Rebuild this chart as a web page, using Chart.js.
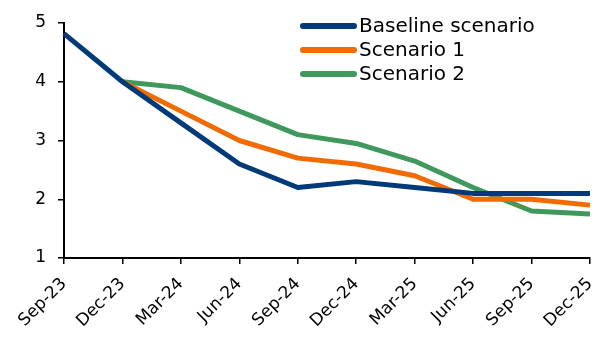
<!DOCTYPE html>
<html lang="en">
<head>
    <meta charset="UTF-8">
    <title>Scenarios</title>
    <style>
        html, body { margin: 0; padding: 0; background: #fff; }
        #wrap { width: 595px; height: 338px; }
    </style>
</head>
<body>
<div id="wrap"><canvas id="chart" width="595" height="338"></canvas></div>

<script src="https://cdn.jsdelivr.net/npm/chart.js"></script>
<script>
    const labels = ['Sep-23', 'Dec-23', 'Mar-24', 'Jun-24', 'Sep-24', 'Dec-24', 'Mar-25', 'Jun-25', 'Sep-25', 'Dec-25'];
    const baseline = [4.82, 4.0, 3.3, 2.6, 2.2, 2.3, 2.2, 2.1, 2.1, 2.1];
    const scenario1 = [null, 4.0, 3.5, 3.0, 2.7, 2.6, 2.4, 2.0, 2.0, 1.9];
    const scenario2 = [null, 4.0, 3.9, 3.5, 3.1, 2.95, 2.65, 2.2, 1.8, 1.75];
    const yTicks = [1, 2, 3, 4, 5];

    const font = "'DejaVu Sans', sans-serif";

    // legend drawn in the top right corner, like the original
    const sideLegend = {
        id: 'sideLegend',
        afterDraw(chart) {
            const ctx = chart.ctx;
            ctx.save();
            ctx.font = '20px ' + font;
            ctx.textBaseline = 'middle';
            ctx.lineCap = 'round';
            chart.data.datasets.forEach((ds, i) => {
                const y = 26 + i * 24;
                ctx.strokeStyle = ds.borderColor;
                ctx.lineWidth = 6;
                ctx.beginPath();
                ctx.moveTo(303, y);
                ctx.lineTo(354, y);
                ctx.stroke();
                ctx.fillStyle = '#000';
                ctx.fillText(ds.label, 359, y + 1);
            });
            ctx.restore();
        }
    };

    new Chart(document.getElementById('chart'), {
        type: 'line',
        data: {
            labels: labels,
            datasets: [
                { label: 'Baseline scenario', data: baseline, borderColor: '#003a78', borderWidth: 5 },
                { label: 'Scenario 1', data: scenario1, borderColor: '#f26b00', borderWidth: 5 },
                { label: 'Scenario 2', data: scenario2, borderColor: '#40995c', borderWidth: 5 }
            ]
        },
        options: {
            responsive: false,
            animation: false,
            layout: { padding: { left: 0, right: 5, top: 23, bottom: 0 } },
            elements: { point: { radius: 0 }, line: { tension: 0, borderJoinStyle: 'round' } },
            plugins: { legend: { display: false }, tooltip: { enabled: false } },
            scales: {
                x: {
                    offset: false,
                    grid: { drawOnChartArea: false, tickLength: 6, color: '#000', lineWidth: 1.5 },
                    border: { color: '#000', width: 2 },
                    ticks: { color: '#000', font: { family: font, size: 17 }, maxRotation: 45, minRotation: 45, autoSkip: false, padding: 10 },
                    afterFit: s => { s.height = 80; s.paddingRight = 0; s.paddingLeft = 0; }
                },
                y: {
                    min: 1,
                    max: 5,
                    afterBuildTicks: s => { s.ticks = yTicks.map(v => ({ value: v })); },
                    grid: { drawOnChartArea: false, tickLength: 6, color: '#000', lineWidth: 1.5 },
                    border: { color: '#000', width: 2 },
                    ticks: { color: '#000', font: { family: font, size: 17 }, padding: 12 },
                    afterFit: s => { s.width = 64; }
                }
            }
        },
        plugins: [sideLegend]
    });
</script>
</body>
</html>
